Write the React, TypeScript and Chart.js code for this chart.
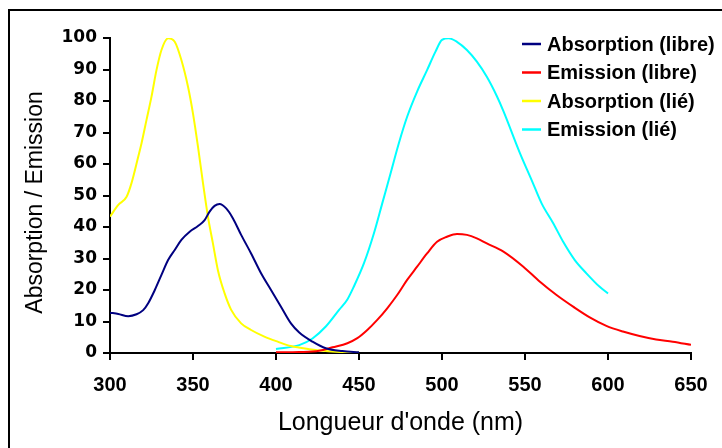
import React, { useEffect, useRef } from 'react';
import { Chart, registerables } from 'chart.js';

Chart.register(...registerables);

const seriesLabels = ['Absorption (libre)', 'Emission (libre)', 'Absorption (lié)', 'Emission (lié)'];
const seriesColors = ['#000080', '#FF0000', '#FFFF00', '#00FFFF'];

const absLibreX = [300, 305, 311, 316, 320, 323, 327, 331, 335, 339, 343, 348, 353, 357, 360, 363, 366, 370, 374, 379, 385, 391, 397, 403, 409, 414, 422, 430, 440, 450];
const absLibreY = [12.8, 12.4, 11.7, 12.3, 13.6, 15.8, 20, 24.8, 29.5, 32.7, 35.9, 38.5, 40.3, 42.2, 44.9, 46.7, 47.3, 45.9, 42.8, 37.5, 31.6, 25.3, 20, 14.7, 9.4, 6.5, 3.6, 1.5, 0.6, 0.2];

const emLibreX = [400, 414, 426, 434, 443, 449, 455, 461, 467, 473, 479, 485, 491, 497, 503, 509, 515, 521, 527, 537, 549, 559, 569, 579, 589, 599, 609, 619, 629, 639, 650];
const emLibreY = [0.2, 0.3, 0.7, 1.8, 3.1, 4.7, 7.3, 10.5, 14.2, 18.4, 23.2, 27.4, 31.6, 35.3, 36.9, 37.8, 37.5, 36.4, 34.8, 32.2, 27.4, 22.6, 18.4, 14.7, 11.3, 8.6, 6.8, 5.4, 4.3, 3.6, 2.6];

const absLieX = [300, 305, 310, 313, 317, 319, 322, 325, 328, 331, 335, 339, 343, 347, 350, 353, 356, 359, 362, 365, 369, 373, 379, 385, 393, 401, 409, 420, 430, 440, 450];
const absLieY = [43.3, 47, 49.6, 54, 62.3, 66.6, 74, 81.4, 89.8, 96.2, 99.9, 98.8, 93, 84.5, 76, 65.5, 54, 43.3, 34.8, 26.3, 19, 13.7, 9.4, 7.3, 5.2, 3.6, 2.2, 1.2, 0.6, 0.3, 0.1];

const emLieX = [400, 414, 422, 430, 438, 443, 447, 453, 459, 464, 469, 474, 479, 485, 491, 496, 500, 504, 509, 515, 521, 527, 533, 537, 547, 554, 560, 567, 573, 580, 587, 595, 600];
const emLieY = [1.3, 2.5, 4.6, 8.4, 13.7, 17, 21.2, 28.5, 38, 47.5, 57, 66.6, 75, 83, 89.8, 95.6, 99.4, 99.9, 98.8, 96.2, 92.5, 87.7, 81.6, 76.8, 63.4, 54.9, 47.5, 41.2, 35.3, 29.5, 25.3, 21, 18.9];

const xMin = 300;
const xMax = 650;
const xStep = 50;
const yMin = 0;
const yMax = 100;
const yStep = 10;

const xTitle = "Longueur d'onde (nm)";
const yTitle = 'Absorption / Emission';

const FONT = '"Liberation Sans", Arial, sans-serif';

function pts(xs: number[], ys: number[]) {
  return xs.map((x, i) => ({ x, y: ys[i] }));
}

export default function App() {
  const ref = useRef<HTMLCanvasElement>(null);

  useEffect(() => {
    if (!ref.current) return;

    const framePlugin = {
      id: 'frame',
      beforeDraw(chart: any) {
        const ctx = chart.ctx;
        ctx.save();
        ctx.fillStyle = '#ffffff';
        ctx.fillRect(0, 0, chart.width, chart.height);
        ctx.strokeStyle = '#000000';
        ctx.lineWidth = 2;
        ctx.strokeRect(9, 10, chart.width + 40, chart.height + 40);
        ctx.restore();
      },
    };

    const yTitlePlugin = {
      id: 'yTitle',
      afterDraw(chart: any) {
        const ctx = chart.ctx;
        const area = chart.chartArea;
        ctx.save();
        ctx.translate(36, (area.top + area.bottom) / 2 + 7);
        ctx.rotate(-Math.PI / 2);
        ctx.font = `23px ${FONT}`;
        ctx.fillStyle = '#000000';
        ctx.textAlign = 'center';
        ctx.textBaseline = 'middle';
        ctx.fillText(yTitle, 0, 0);
        ctx.restore();
      },
    };

    const legendPlugin = {
      id: 'customLegend',
      afterDatasetsDraw(chart: any) {
        const ctx = chart.ctx;
        const area = chart.chartArea;
        const x0 = area.right - 169;
        const y0 = area.top + 6;
        ctx.save();
        ctx.font = `bold 20px ${FONT}`;
        ctx.textBaseline = 'middle';
        ctx.textAlign = 'left';
        chart.data.datasets.forEach((ds: any, i: number) => {
          const y = y0 + i * 28.5;
          ctx.strokeStyle = ds.borderColor;
          ctx.lineWidth = 2.5;
          ctx.beginPath();
          ctx.moveTo(x0, y);
          ctx.lineTo(x0 + 19, y);
          ctx.stroke();
          ctx.fillStyle = '#000000';
          ctx.fillText(ds.label, x0 + 25, y + 1);
        });
        ctx.restore();
      },
    };

    const series = [
      pts(absLibreX, absLibreY),
      pts(emLibreX, emLibreY),
      pts(absLieX, absLieY),
      pts(emLieX, emLieY),
    ];

    const chart = new Chart(ref.current, {
      type: 'line',
      data: {
        datasets: series.map((data, i) => ({
          label: seriesLabels[i],
          data,
          borderColor: seriesColors[i],
          backgroundColor: seriesColors[i],
          borderWidth: 2,
          pointRadius: 0,
          fill: false,
          tension: 0.4,
          cubicInterpolationMode: 'monotone' as const,
        })),
      },
      options: {
        responsive: false,
        animation: false,
        devicePixelRatio: 1,
        layout: { padding: { left: 0, top: 38, right: 31, bottom: 0 } },
        plugins: {
          legend: { display: false },
          tooltip: { enabled: false },
        },
        scales: {
          x: {
            type: 'linear',
            min: xMin,
            max: xMax,
            afterFit: (scale: any) => {
              scale.height = 95;
            },
            ticks: {
              stepSize: xStep,
              color: '#000',
              padding: 13,
              maxRotation: 0,
              font: { family: FONT, size: 20, weight: 'bold' },
            },
            grid: {
              display: true,
              drawOnChartArea: false,
              drawTicks: true,
              tickLength: 7,
              color: '#000',
              lineWidth: 2,
            },
            border: { display: true, color: '#000', width: 2 },
            title: {
              display: true,
              text: xTitle,
              color: '#000',
              padding: { top: 0, bottom: 10 },
              font: { family: FONT, size: 25, weight: 'normal' },
            },
          },
          y: {
            type: 'linear',
            min: yMin,
            max: yMax,
            afterFit: (scale: any) => {
              scale.width = 110;
            },
            ticks: {
              stepSize: yStep,
              color: '#000',
              padding: 6,
              font: { family: '"DejaVu Sans", sans-serif', size: 17, weight: 'bold' },
            },
            grid: {
              display: true,
              drawOnChartArea: false,
              drawTicks: true,
              tickLength: 7,
              color: '#000',
              lineWidth: 2,
            },
            border: { display: true, color: '#000', width: 2 },
            title: { display: false },
          },
        },
      },
      plugins: [framePlugin, legendPlugin, yTitlePlugin],
    } as any);

    return () => chart.destroy();
  }, []);

  return (
    <div
      style={{
        position: 'fixed',
        left: 0,
        top: 0,
        width: 722,
        height: 448,
        overflow: 'hidden',
        background: '#fff',
      }}
    >
      <canvas ref={ref} width={722} height={448} style={{ display: 'block', width: 722, height: 448 }} />
    </div>
  );
}
